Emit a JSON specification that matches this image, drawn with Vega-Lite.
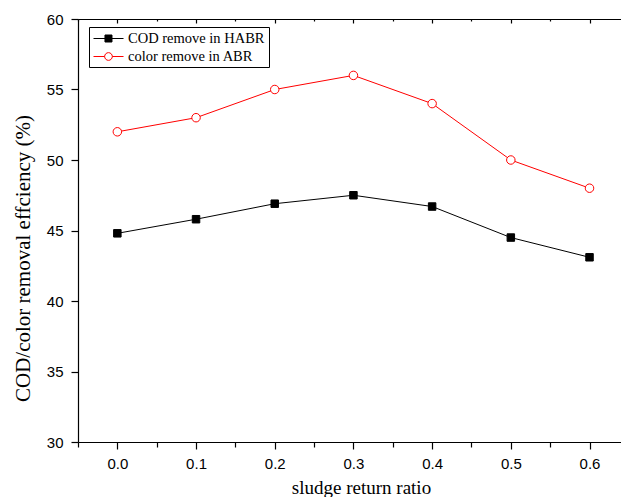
{
  "$schema": "https://vega.github.io/schema/vega-lite/v6.json",
  "width": 543,
  "height": 423,
  "autosize": {"type": "none"},
  "padding": {"left": 78, "top": 19, "right": 0, "bottom": 55},
  "background": "white",
  "config": {
    "view": {"stroke": null},
    "axis": {
      "grid": false,
      "domainColor": "black",
      "tickColor": "black",
      "labelColor": "black",
      "titleColor": "black",
      "labelFont": "Liberation Sans",
      "labelFontSize": 15,
      "titleFont": "Liberation Serif",
      "titleFontWeight": "normal",
      "domainWidth": 1.2,
      "tickWidth": 1.2
    }
  },
  "data": {
    "values": [
      {"x": 0.0, "v": 44.8, "series": "COD remove in HABR"},
      {"x": 0.1, "v": 45.8, "series": "COD remove in HABR"},
      {"x": 0.2, "v": 46.9, "series": "COD remove in HABR"},
      {"x": 0.3, "v": 47.5, "series": "COD remove in HABR"},
      {"x": 0.4, "v": 46.7, "series": "COD remove in HABR"},
      {"x": 0.5, "v": 44.5, "series": "COD remove in HABR"},
      {"x": 0.6, "v": 43.1, "series": "COD remove in HABR"},
      {"x": 0.0, "v": 52, "series": "color remove in ABR"},
      {"x": 0.1, "v": 53, "series": "color remove in ABR"},
      {"x": 0.2, "v": 55, "series": "color remove in ABR"},
      {"x": 0.3, "v": 56, "series": "color remove in ABR"},
      {"x": 0.4, "v": 54, "series": "color remove in ABR"},
      {"x": 0.5, "v": 50, "series": "color remove in ABR"},
      {"x": 0.6, "v": 48, "series": "color remove in ABR"}
    ]
  },
  "layer": [
    {
      "mark": {"type": "line", "strokeWidth": 1},
      "encoding": {
        "x": {
          "field": "x", "type": "quantitative",
          "scale": {"domain": [-0.05, 0.64], "nice": false, "zero": false},
          "axis": {
            "orient": "bottom",
            "title": "sludge return ratio",
            "titleFontSize": 19,
            "titleX": 283,
            "values": [-0.05, 0, 0.05, 0.1, 0.15, 0.2, 0.25, 0.3, 0.35, 0.4, 0.45, 0.5, 0.55, 0.6],
            "labelExpr": "abs(round(datum.value*20)) % 2 === 0 ? format(datum.value, '.1f') : ''",
            "tickSize": {"condition": {"test": "abs(round(datum.value*20)) % 2 === 0", "value": 7}, "value": 5},
            "labelPadding": 7,
            "titlePadding": 7,
            "labelFlush": false,
            "labelOverlap": false
          }
        },
        "y": {
          "field": "v", "type": "quantitative",
          "scale": {"domain": [30, 60], "nice": false, "zero": false},
          "axis": {
            "title": "COD/color removal effciency (%)",
            "titleFontSize": 21,
            "titleY": 239,
            "values": [30, 32.5, 35, 37.5, 40, 42.5, 45, 47.5, 50, 52.5, 55, 57.5, 60],
            "labelExpr": "datum.value % 5 === 0 ? datum.label : ''",
            "tickSize": {"condition": {"test": "datum.value % 5 === 0", "value": 7}, "value": 5},
            "labelPadding": 8,
            "titlePadding": 13,
            "labelOverlap": false
          }
        },
        "stroke": {
          "field": "series", "type": "nominal",
          "scale": {"domain": ["COD remove in HABR", "color remove in ABR"], "range": ["black", "#ff0000"]},
          "legend": {
            "title": null,
            "orient": "none",
            "legendX": 11,
            "legendY": 8,
            "strokeColor": "black",
            "padding": 4,
            "cornerRadius": 0,
            "fillColor": "white",
            "symbolSize": 196,
            "symbolStrokeWidth": 1,
            "labelFont": "Liberation Serif",
            "labelFontSize": 14.5,
            "labelColor": "black",
            "labelOffset": 20,
            "rowPadding": 3
          }
        }
      }
    },
    {
      "transform": [{"filter": "datum.series === 'COD remove in HABR'"}],
      "mark": {"type": "point", "shape": "square", "strokeWidth": 1, "opacity": 1, "size": 56},
      "encoding": {
        "x": {"field": "x", "type": "quantitative", "axis": null},
        "y": {"field": "v", "type": "quantitative"},
        "stroke": {"field": "series", "type": "nominal"},
        "fill": {"field": "series", "type": "nominal"}
      }
    },
    {
      "transform": [{"filter": "datum.series === 'color remove in ABR'"}],
      "mark": {"type": "point", "shape": "circle", "strokeWidth": 1, "opacity": 1, "size": 72},
      "encoding": {
        "x": {"field": "x", "type": "quantitative", "axis": null},
        "y": {"field": "v", "type": "quantitative"},
        "stroke": {"field": "series", "type": "nominal"},
        "fill": {"field": "series", "type": "nominal"}
      }
    },
    {
      "transform": [{"filter": "datum.v < 0"}],
      "mark": {"type": "point", "strokeWidth": 1, "opacity": 1},
      "encoding": {
        "x": {"field": "x", "type": "quantitative", "axis": null},
        "y": {"field": "v", "type": "quantitative"},
        "stroke": {"field": "series", "type": "nominal"},
        "fill": {
          "field": "series", "type": "nominal",
          "scale": {"domain": ["COD remove in HABR", "color remove in ABR"], "range": ["black", "white"]}
        },
        "shape": {
          "field": "series", "type": "nominal",
          "scale": {"domain": ["COD remove in HABR", "color remove in ABR"], "range": ["M-1,0H3.29M0.64,-0.5H1.64V0.5H0.64Z", "M-1,0H0.59M1.69,0H3.29M0.59,0A0.55,0.55 0 1,1 1.69,0A0.55,0.55 0 1,1 0.59,0Z"]}
        }
      }
    },
    {
      "mark": {"type": "point", "opacity": 0},
      "encoding": {
        "x": {
          "field": "x", "type": "quantitative",
          "axis": {
            "orient": "top",
            "title": null,
            "labels": false,
            "values": [-0.05, 0, 0.05, 0.1, 0.15, 0.2, 0.25, 0.3, 0.35, 0.4, 0.45, 0.5, 0.55, 0.6],
            "tickSize": {"condition": {"test": "abs(round(datum.value*20)) % 2 === 0", "value": -4}, "value": -2}
          }
        },
        "y": {"field": "v", "type": "quantitative"}
      }
    }
  ],
  "resolve": {"axis": {"x": "independent"}}
}
